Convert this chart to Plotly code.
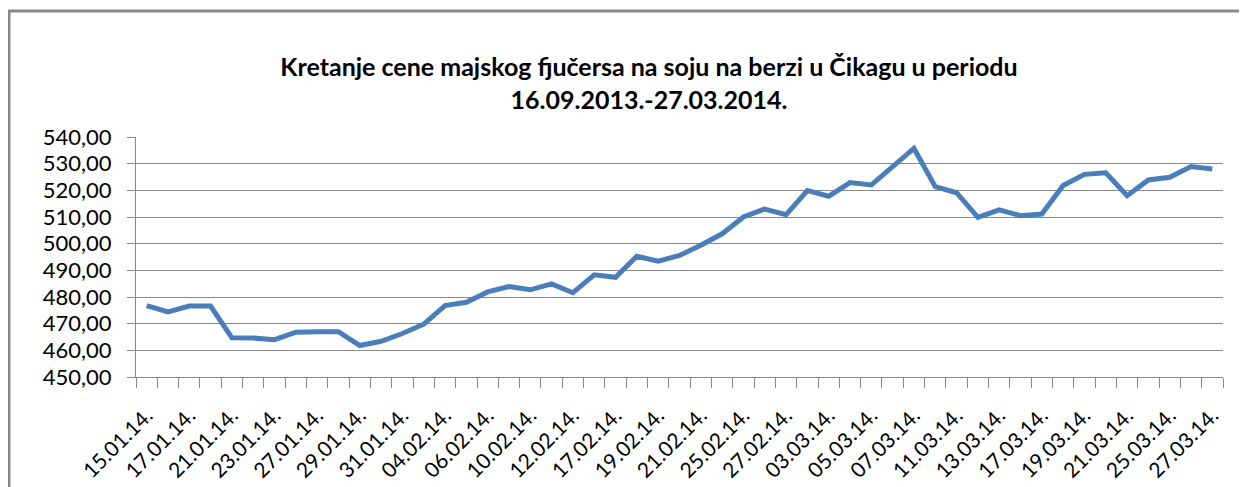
import plotly.graph_objects as go

dates = [
    "15.01.14.", "16.01.14.", "17.01.14.", "20.01.14.", "21.01.14.", "22.01.14.", "23.01.14.",
    "24.01.14.", "27.01.14.", "28.01.14.", "29.01.14.", "30.01.14.", "31.01.14.",
    "03.02.14.", "04.02.14.", "05.02.14.", "06.02.14.", "07.02.14.", "10.02.14.", "11.02.14.",
    "12.02.14.", "14.02.14.", "17.02.14.", "18.02.14.", "19.02.14.", "20.02.14.", "21.02.14.",
    "24.02.14.", "25.02.14.", "26.02.14.", "27.02.14.", "28.02.14.",
    "03.03.14.", "04.03.14.", "05.03.14.", "06.03.14.", "07.03.14.", "10.03.14.", "11.03.14.",
    "12.03.14.", "13.03.14.", "14.03.14.", "17.03.14.", "18.03.14.", "19.03.14.", "20.03.14.",
    "21.03.14.", "24.03.14.", "25.03.14.", "26.03.14.", "27.03.14.",
]

prices = [
    476.8, 474.4, 476.6, 476.6, 464.7, 464.6, 464.0, 466.8, 467.0, 467.0,
    461.8, 463.4, 466.3, 469.8, 476.8, 478.0, 481.9, 483.9, 482.7, 484.9,
    481.6, 488.3, 487.4, 495.3, 493.4, 495.6, 499.4, 503.7, 510.0, 513.0,
    510.9, 519.9, 517.8, 522.9, 522.0, 528.6, 535.7, 521.4, 519.1, 509.9,
    512.7, 510.5, 511.1, 521.8, 526.0, 526.6, 518.0, 523.9, 524.9, 528.9,
    528.0,
]

tick_text = [d if i % 2 == 0 else "" for i, d in enumerate(dates)]

title_lines = [
    "Kretanje cene majskog fjučersa na soju na berzi u Čikagu u periodu",
    "16.09.2013.-27.03.2014.",
]

GRAY = "#898989"
OFF = 8  # page body margin
W, H = 1247 - OFF, 487 - OFF
L, R, T, B = 136 - OFF, 24, 137 - OFF, 110
PW, PH = W - L - R, H - T - B

fig = go.Figure()
fig.add_trace(go.Scatter(
    x=dates, y=prices, mode="lines",
    line=dict(color="#4a7ebb", width=5),
    showlegend=False, hoverinfo="x+y",
))

def px_x(p):
    return (p - OFF - L) / PW

def px_y(p):
    return (H - B - (p - OFF)) / PH

fig.update_layout(
    width=W, height=H,
    margin=dict(l=L, r=R, t=T, b=B, autoexpand=False),
    paper_bgcolor="white", plot_bgcolor="white",
    separators=", ",
    font=dict(family="Lato, Arial, sans-serif", color="#000000"),
    title=dict(
        text="<b>" + title_lines[0] + "</b><br><b>" + title_lines[1] + "</b>",
        x=(649 - OFF) / W, xanchor="center", xref="container",
        y=1 - (76 - OFF) / H, yanchor="middle", yref="container",
        font=dict(family="Lato, Arial, sans-serif", size=25, color="#000000"),
    ),
    xaxis=dict(
        type="category", automargin=False,
        tickmode="array", tickvals=dates, ticktext=tick_text,
        tickson="boundaries", ticks="outside", ticklen=10, tickcolor=GRAY, tickwidth=1,
        showline=True, linecolor=GRAY, linewidth=1,
        showgrid=False, tickangle=-45,
        tickfont=dict(size=21, family="Lato, Arial, sans-serif"),
        ticklabelstandoff=17,
        range=[-0.5, len(dates) - 0.5],
    ),
    yaxis=dict(
        range=[450, 540], dtick=10, tickformat=".2f", automargin=False,
        ticks="outside", ticklen=8, tickcolor=GRAY, tickwidth=1,
        showline=True, linecolor=GRAY, linewidth=1,
        showgrid=True, gridcolor=GRAY, gridwidth=1,
        tickfont=dict(size=22, family="Lato, Arial, sans-serif"),
        ticklabelstandoff=11, zeroline=False,
    ),
    shapes=[dict(
        type="rect", xref="paper", yref="paper",
        x0=px_x(9), x1=px_x(1300), y0=px_y(520), y1=px_y(11),
        line=dict(color=GRAY, width=3), fillcolor="rgba(0,0,0,0)", layer="below",
    )],
)

fig.write_html("out.html")
